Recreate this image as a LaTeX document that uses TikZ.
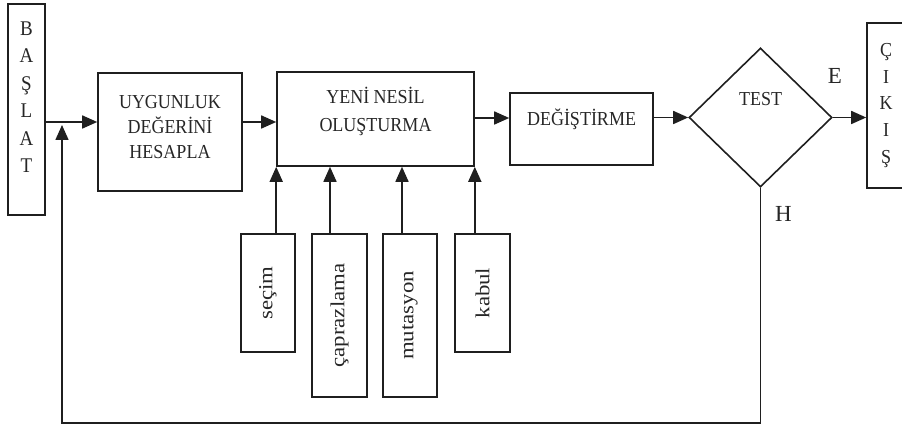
\documentclass[tikz,border=0pt]{standalone}
\usepackage{fontspec}
\usepackage{graphicx}
\setmainfont{Liberation Serif}
\usetikzlibrary{arrows.meta,shapes.geometric}
\begin{document}
\begin{tikzpicture}[x=1pt,y=-1pt,
  ink/.style={draw=black!88,line width=1.6pt},
  box/.style={ink,rectangle,inner sep=0pt,text=black!85},
  flow/.style={ink,-{Triangle[length=15pt,width=13pt]}},
  caps/.style={font=\fontsize{18}{23}\selectfont,align=center,text=black!85,inner sep=0pt,yscale=1.1},
  letters/.style={font=\fontsize{19}{25}\selectfont,align=center,text=black!85,inner sep=0pt,yscale=1.1},
  tag/.style={font=\fontsize{23}{26}\selectfont,text=black!85,inner sep=0pt}]
\useasboundingbox (0,0) rectangle (902,427);

% start and end columns
\node[box,minimum width=37pt,minimum height=211pt,
      label={[letters,yshift=11pt]center:B\\A\\Ş\\L\\A\\T}] (baslat) at (26.5,109.5) {};
\node[box,minimum width=40pt,minimum height=165pt,
      label={[letters,font=\fontsize{18}{24.2}\selectfont,xshift=-1pt]center:Ç\\I\\K\\I\\Ş}] (cikis) at (887,105.5) {};

% processing blocks
\node[box,minimum width=144pt,minimum height=118pt,
      label={[caps,yshift=4.5pt]center:UYGUNLUK\\DEĞERİNİ\\HESAPLA}] (uyg) at (170,132) {};
\node[box,minimum width=197pt,minimum height=94pt,
      label={[caps,font=\fontsize{18}{25}\selectfont,yshift=7pt]center:YENİ NESİL\\OLUŞTURMA}] (yeni) at (375.5,119) {};
\node[box,minimum width=143pt,minimum height=72pt,
      label={[caps,yshift=9pt]center:DEĞİŞTİRME}] (degis) at (581.5,129) {};
\node[ink,diamond,inner sep=0pt,minimum width=143pt,minimum height=139pt,
      label={[caps,yshift=16.5pt]center:TEST}] (test) at (760.5,117.5) {};

% operator blocks
\node[box,minimum width=54pt,minimum height=118pt] (secim) at (268,293)
  {\rotatebox{90}{\scalebox{1.2}[1.05]{\fontsize{19}{22}\selectfont seçim}}};
\node[box,minimum width=55pt,minimum height=163pt] (capraz) at (339.5,315.5)
  {\rotatebox{90}{\scalebox{1.2}[1.05]{\fontsize{19}{22}\selectfont çaprazlama}}};
\node[box,minimum width=54pt,minimum height=163pt] (mutas) at (410,315.5)
  {\rotatebox{90}{\scalebox{1.2}[1.05]{\fontsize{19}{22}\selectfont mutasyon}}};
\node[box,minimum width=55pt,minimum height=118pt] (kabul) at (482.5,293)
  {\rotatebox{90}{\scalebox{1.2}[1.05]{\fontsize{19}{22}\selectfont kabul}}};

% branch labels
\node[tag] (evet) at (835,75.5) {E};
\node[tag] (hayir) at (783.5,214) {H};

% helper points for the flow lines
\coordinate (mainA) at (0,122);
\coordinate (mainB) at (0,118);
\coordinate (capx) at (330,0);
\coordinate (mutx) at (402,0);
\coordinate (loopcorner) at (62,423);
\coordinate (looptip) at (62,125);

% main flow
\draw[flow] (baslat.east |- mainA) -- (uyg.west |- mainA);
\draw[flow] (uyg.east |- mainA) -- (yeni.west |- mainA);
\draw[flow] (yeni.east |- mainB) -- (degis.west |- mainB);
\draw[flow] (degis.east |- test.west) -- (test.west);
\draw[flow] (test.east) -- (cikis.west |- test.east);

% feedback loop
\draw[flow] (test.south) |- (loopcorner) -- (looptip);

% operator inputs
\draw[flow] (secim.north -| yeni.south west) -- (yeni.south west);
\draw[flow] (capraz.north -| capx) -- (yeni.south -| capx);
\draw[flow] (mutas.north -| mutx) -- (yeni.south -| mutx);
\draw[flow] (kabul.north -| yeni.south east) -- (yeni.south east);
\end{tikzpicture}
\end{document}
